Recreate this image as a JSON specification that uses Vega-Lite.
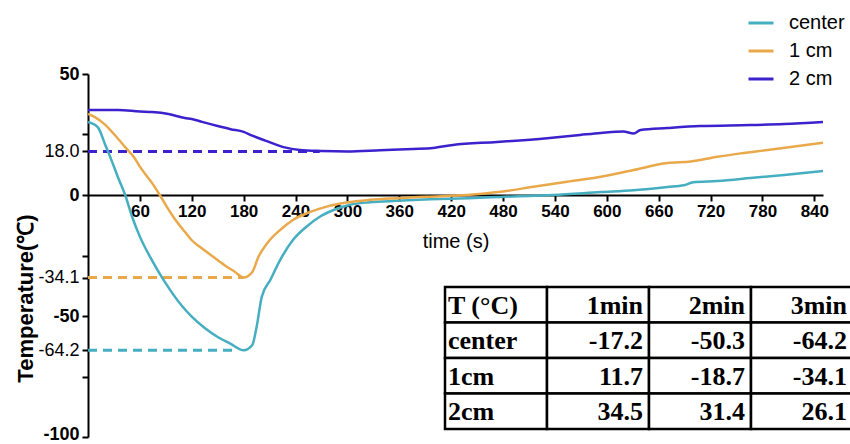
{
  "$schema": "https://vega.github.io/schema/vega-lite/v6.json",
  "width": 735,
  "height": 363,
  "autosize": {"type": "none"},
  "padding": {"left": 88, "top": 74, "right": 27, "bottom": 7},
  "background": "white",
  "config": {"view": {"stroke": null}, "font": "Liberation Sans"},
  "datasets": {
    "curves": [
      {"series": "center", "t": 0, "T": 30.2},
      {"series": "center", "t": 8, "T": 29},
      {"series": "center", "t": 12, "T": 27.7},
      {"series": "center", "t": 20, "T": 20.7},
      {"series": "center", "t": 28, "T": 13.6},
      {"series": "center", "t": 35, "T": 7},
      {"series": "center", "t": 43, "T": 0},
      {"series": "center", "t": 51, "T": -9},
      {"series": "center", "t": 60, "T": -17.2},
      {"series": "center", "t": 74, "T": -27},
      {"series": "center", "t": 89, "T": -36},
      {"series": "center", "t": 109, "T": -46},
      {"series": "center", "t": 120, "T": -50.3},
      {"series": "center", "t": 135, "T": -55},
      {"series": "center", "t": 150, "T": -58.7},
      {"series": "center", "t": 165, "T": -61.5},
      {"series": "center", "t": 180, "T": -64.2},
      {"series": "center", "t": 190, "T": -62},
      {"series": "center", "t": 195, "T": -54.5},
      {"series": "center", "t": 201, "T": -42},
      {"series": "center", "t": 211, "T": -35},
      {"series": "center", "t": 222, "T": -27},
      {"series": "center", "t": 237, "T": -18.6},
      {"series": "center", "t": 253, "T": -13},
      {"series": "center", "t": 268, "T": -9},
      {"series": "center", "t": 284, "T": -6.2},
      {"series": "center", "t": 303, "T": -4},
      {"series": "center", "t": 326, "T": -3},
      {"series": "center", "t": 357, "T": -2.4},
      {"series": "center", "t": 396, "T": -1.8},
      {"series": "center", "t": 440, "T": -1.3},
      {"series": "center", "t": 477, "T": -0.8},
      {"series": "center", "t": 538, "T": 0},
      {"series": "center", "t": 593, "T": 1.2},
      {"series": "center", "t": 631, "T": 2},
      {"series": "center", "t": 670, "T": 3.3},
      {"series": "center", "t": 689, "T": 4},
      {"series": "center", "t": 700, "T": 5.3},
      {"series": "center", "t": 728, "T": 5.8},
      {"series": "center", "t": 766, "T": 7},
      {"series": "center", "t": 805, "T": 8.3},
      {"series": "center", "t": 850, "T": 9.9},
      {"series": "1 cm", "t": 0, "T": 33.5},
      {"series": "1 cm", "t": 8, "T": 32.2},
      {"series": "1 cm", "t": 20, "T": 29},
      {"series": "1 cm", "t": 31, "T": 24.8},
      {"series": "1 cm", "t": 43, "T": 19.8},
      {"series": "1 cm", "t": 54, "T": 15.2},
      {"series": "1 cm", "t": 60, "T": 11.7},
      {"series": "1 cm", "t": 75, "T": 4.5},
      {"series": "1 cm", "t": 83, "T": 0},
      {"series": "1 cm", "t": 91, "T": -4.8},
      {"series": "1 cm", "t": 101, "T": -10.2},
      {"series": "1 cm", "t": 112, "T": -15.2},
      {"series": "1 cm", "t": 120, "T": -18.7},
      {"series": "1 cm", "t": 130, "T": -21.6},
      {"series": "1 cm", "t": 144, "T": -25.3},
      {"series": "1 cm", "t": 158, "T": -29},
      {"series": "1 cm", "t": 170, "T": -31.8},
      {"series": "1 cm", "t": 180, "T": -34.1},
      {"series": "1 cm", "t": 190, "T": -31.8},
      {"series": "1 cm", "t": 197, "T": -25.6},
      {"series": "1 cm", "t": 207, "T": -20},
      {"series": "1 cm", "t": 222, "T": -14.5},
      {"series": "1 cm", "t": 237, "T": -10.3},
      {"series": "1 cm", "t": 257, "T": -7},
      {"series": "1 cm", "t": 276, "T": -4.8},
      {"series": "1 cm", "t": 299, "T": -3.1},
      {"series": "1 cm", "t": 326, "T": -2},
      {"series": "1 cm", "t": 357, "T": -1.3},
      {"series": "1 cm", "t": 392, "T": -0.7},
      {"series": "1 cm", "t": 438, "T": 0},
      {"series": "1 cm", "t": 477, "T": 1.3},
      {"series": "1 cm", "t": 515, "T": 3.4},
      {"series": "1 cm", "t": 554, "T": 5.5},
      {"series": "1 cm", "t": 593, "T": 7.5},
      {"series": "1 cm", "t": 631, "T": 10.3},
      {"series": "1 cm", "t": 670, "T": 13.2},
      {"series": "1 cm", "t": 697, "T": 13.8},
      {"series": "1 cm", "t": 728, "T": 15.8},
      {"series": "1 cm", "t": 755, "T": 17.2},
      {"series": "1 cm", "t": 786, "T": 18.6},
      {"series": "1 cm", "t": 850, "T": 21.6},
      {"series": "2 cm", "t": 0, "T": 35.1},
      {"series": "2 cm", "t": 35, "T": 35.1},
      {"series": "2 cm", "t": 60, "T": 34.5},
      {"series": "2 cm", "t": 74, "T": 34.3},
      {"series": "2 cm", "t": 93, "T": 33.5},
      {"series": "2 cm", "t": 112, "T": 31.8},
      {"series": "2 cm", "t": 120, "T": 31.4},
      {"series": "2 cm", "t": 132, "T": 30.2},
      {"series": "2 cm", "t": 150, "T": 28.5},
      {"series": "2 cm", "t": 165, "T": 27.2},
      {"series": "2 cm", "t": 180, "T": 26.1},
      {"series": "2 cm", "t": 190, "T": 24.5},
      {"series": "2 cm", "t": 205, "T": 22.5},
      {"series": "2 cm", "t": 226, "T": 19.8},
      {"series": "2 cm", "t": 245, "T": 18.6},
      {"series": "2 cm", "t": 270, "T": 18.2},
      {"series": "2 cm", "t": 300, "T": 18.0},
      {"series": "2 cm", "t": 338, "T": 18.5},
      {"series": "2 cm", "t": 376, "T": 19},
      {"series": "2 cm", "t": 399, "T": 19.4},
      {"series": "2 cm", "t": 422, "T": 20.7},
      {"series": "2 cm", "t": 473, "T": 21.9},
      {"series": "2 cm", "t": 531, "T": 23.5},
      {"series": "2 cm", "t": 569, "T": 24.8},
      {"series": "2 cm", "t": 593, "T": 25.6},
      {"series": "2 cm", "t": 619, "T": 26.2},
      {"series": "2 cm", "t": 631, "T": 25.4},
      {"series": "2 cm", "t": 639, "T": 26.9},
      {"series": "2 cm", "t": 670, "T": 27.7},
      {"series": "2 cm", "t": 708, "T": 28.5},
      {"series": "2 cm", "t": 766, "T": 28.9},
      {"series": "2 cm", "t": 805, "T": 29.3},
      {"series": "2 cm", "t": 850, "T": 30.2}
    ],
    "guides": [
      {"series": "2 cm", "t": 0, "T": 18.0},
      {"series": "2 cm", "t": 268, "T": 18.0},
      {"series": "1 cm", "t": 0, "T": -34.1},
      {"series": "1 cm", "t": 180, "T": -34.1},
      {"series": "center", "t": 0, "T": -64.2},
      {"series": "center", "t": 168, "T": -64.2}
    ],
    "table": [
      {"row": "T (°C)", "col": "label", "text": "T (°C)"},
      {"row": "T (°C)", "col": "1min", "text": "1min"},
      {"row": "T (°C)", "col": "2min", "text": "2min"},
      {"row": "T (°C)", "col": "3min", "text": "3min"},
      {"row": "center", "col": "label", "text": "center"},
      {"row": "center", "col": "1min", "text": "-17.2"},
      {"row": "center", "col": "2min", "text": "-50.3"},
      {"row": "center", "col": "3min", "text": "-64.2"},
      {"row": "1cm", "col": "label", "text": "1cm"},
      {"row": "1cm", "col": "1min", "text": "11.7"},
      {"row": "1cm", "col": "2min", "text": "-18.7"},
      {"row": "1cm", "col": "3min", "text": "-34.1"},
      {"row": "2cm", "col": "label", "text": "2cm"},
      {"row": "2cm", "col": "1min", "text": "34.5"},
      {"row": "2cm", "col": "2min", "text": "31.4"},
      {"row": "2cm", "col": "3min", "text": "26.1"}
    ]
  },
  "layer": [
    {
      "encoding": {
        "x": {
          "field": "t", "type": "quantitative",
          "scale": {"domain": [0, 850], "nice": false, "zero": false},
          "axis": {
            "values": [60, 120, 180, 240, 300, 360, 420, 480, 540, 600, 660, 720, 780, 840],
            "offset": -242,
            "title": "time (s)",
            "titleFontSize": 20, "titleFontWeight": "normal", "titleColor": "black", "titlePadding": 12,
            "labelFontSize": 17, "labelFontWeight": "bold", "labelColor": "black", "labelFlush": false, "labelPadding": 2,
            "domainColor": "black", "domainWidth": 2, "tickColor": "black", "tickWidth": 2, "tickSize": 6,
            "grid": false
          }
        },
        "y": {
          "field": "T", "type": "quantitative",
          "scale": {"domain": [-100, 50], "nice": false, "zero": false},
          "axis": {
            "values": [50, 25, 18, 0, -25, -34.1, -50, -64.2, -75, -100],
            "labelExpr": "indexof([25, -25, -75], datum.value) >= 0 ? '' : (datum.value == 18 ? '18.0' : '' + datum.value)",
            "labelFontWeight": {"condition": {"test": "datum.value == 18 || datum.value == -34.1 || datum.value == -64.2", "value": "normal"}, "value": "bold"},
            "labelOffset": {"condition": {"test": "datum.value == -100", "value": -3}, "value": 0},
            "labelFontSize": 18, "labelColor": "black", "labelPadding": 3,
            "title": "Temperature(℃)", "titleFontSize": 22, "titleFontWeight": "bold", "titleColor": "black",
            "titleX": -63, "titleY": 224, "titleBaseline": "middle", "titleAlign": "center", "titleAngle": -90,
            "domainColor": "black", "domainWidth": 2, "tickColor": "black", "tickWidth": 2, "tickSize": 6,
            "grid": false
          }
        },
        "color": {
          "field": "series", "type": "nominal",
          "scale": {"domain": ["center", "1 cm", "2 cm"], "range": ["#45AEC0", "#E9A94B", "#3B22CC"]},
          "legend": {
            "orient": "none", "legendX": 659, "legendY": -65, "title": null,
            "symbolType": "stroke", "symbolStrokeWidth": 3, "symbolSize": 625,
            "labelFontSize": 20, "labelColor": "black", "labelOffset": 14, "rowPadding": 4, "padding": 0
          }
        }
      },
      "layer": [
        {
          "data": {"name": "guides"},
          "mark": {"type": "line", "strokeDash": [9, 6], "strokeWidth": 3}
        },
        {
          "data": {"name": "curves"},
          "mark": {"type": "line", "strokeWidth": 2.5, "interpolate": "monotone"}
        }
      ]
    },
    {
      "data": {"name": "table"},
      "encoding": {
        "y": {
          "field": "row", "type": "nominal", "axis": null,
          "scale": {"domain": ["T (°C)", "center", "1cm", "2cm"], "range": [213, 355], "paddingInner": 0, "paddingOuter": 0}
        }
      },
      "layer": [
        {
          "mark": {"type": "rect", "fill": "white", "stroke": "black", "strokeWidth": 2.5},
          "encoding": {
            "x": {
              "field": "col", "type": "nominal", "axis": null,
              "scale": {"domain": ["label", "1min", "2min", "3min"], "range": [357, 765], "paddingInner": 0, "paddingOuter": 0}
            }
          }
        },
        {
          "transform": [{"filter": "datum.col == 'label'"}],
          "mark": {"type": "text", "align": "left", "baseline": "middle", "dx": 3, "dy": 1, "font": "Liberation Serif", "fontWeight": "bold", "fontSize": 26, "color": "black"},
          "encoding": {
            "x": {"field": "col", "type": "nominal", "axis": null, "bandPosition": 0},
            "text": {"field": "text"}
          }
        },
        {
          "transform": [{"filter": "datum.col != 'label'"}],
          "mark": {"type": "text", "align": "right", "baseline": "middle", "dx": -6, "dy": 1, "font": "Liberation Serif", "fontWeight": "bold", "fontSize": 26, "color": "black"},
          "encoding": {
            "x": {"field": "col", "type": "nominal", "axis": null, "bandPosition": 1},
            "text": {"field": "text"}
          }
        }
      ]
    }
  ],
  "resolve": {"scale": {"x": "independent", "y": "independent", "color": "independent"}}
}
